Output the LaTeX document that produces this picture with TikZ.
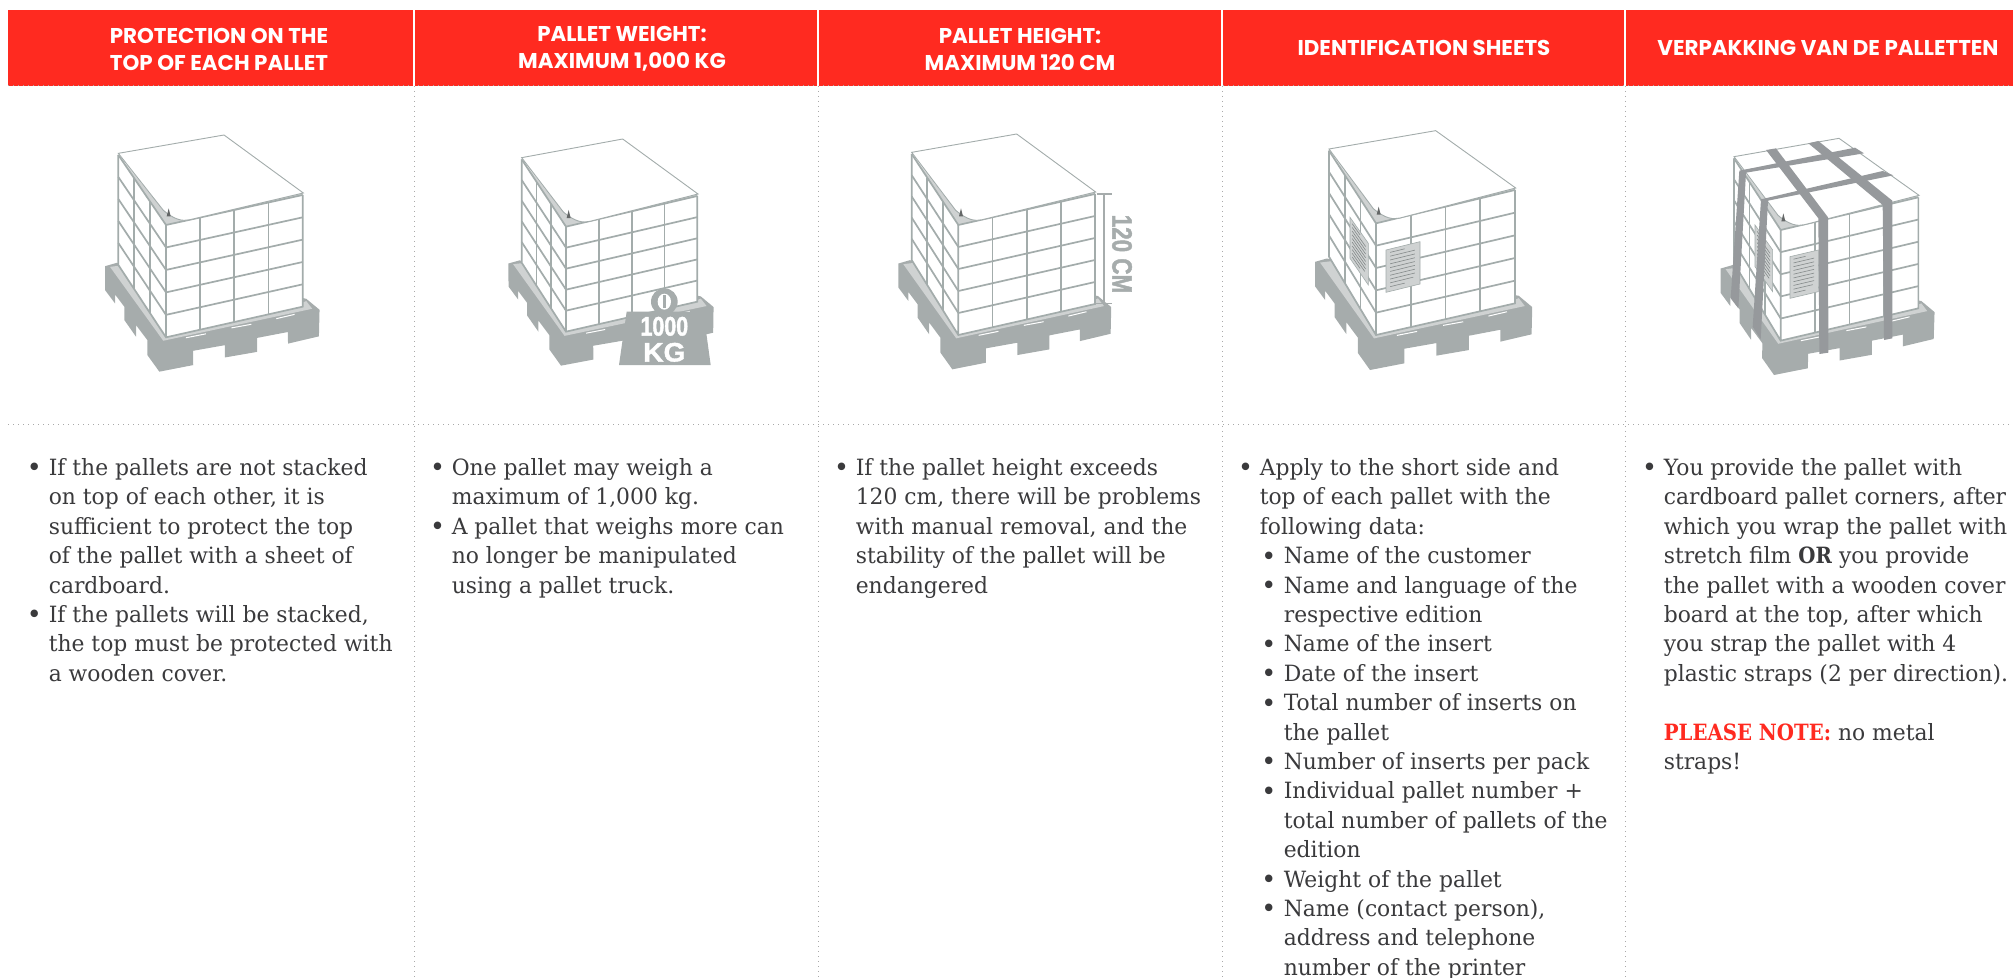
\documentclass[tikz,border=0pt]{standalone}
\usepackage{fontspec}
\usetikzlibrary{calc}
\setmainfont{DejaVu Serif}[FakeStretch=0.975,BoldFeatures={FakeStretch=0.88}]
\newfontfamily\hdrfont{Poppins}[FakeStretch=1.0]
\newfontfamily\impactA{Liberation Sans}[FakeStretch=0.8,BoldFeatures={FakeBold=1.5}]
\newfontfamily\impactB{Liberation Sans}[FakeStretch=1.05,BoldFeatures={FakeBold=1.5}]
\definecolor{hdrred}{HTML}{FF2A20}
\definecolor{palgrey}{HTML}{A6ACAC}
\definecolor{deckgrey}{HTML}{CFD2D2}
\definecolor{linegrey}{HTML}{A3ACAB}
\definecolor{strapgrey}{HTML}{96999C}
\definecolor{dotgrey}{HTML}{A9A9A9}
\definecolor{bodytext}{HTML}{3A3A3C}
\tikzset{
  boxline/.style={draw=linegrey,line width=0.85pt},
  sheetline/.style={draw=linegrey,line width=0.45pt},
  hdrlabel/.style={text=white,font=\hdrfont\bfseries\fontsize{10.7}{13}\selectfont,align=center,inner sep=0pt},
  bodylist/.style={anchor=north west,inner sep=0pt,align=left,text=bodytext,font=\fontsize{11.2}{14.7}\selectfont},
  divider/.style={draw=dotgrey,line width=0.5pt,dotted},
  icon/.style={x=0.166667pt,y=-0.166667pt},
  strap/.style={fill=strapgrey,draw=none},
  idpaper/.style={fill=deckgrey,draw=linegrey,line width=0.3pt},
  idrule/.style={draw=palgrey!80!black,line width=0.3pt}
}
\newcommand\palletbase[6]{%
  \pgfmathsetmacro\rvx{#3-#1}\pgfmathsetmacro\rvy{#4-#2}%
  \pgfmathsetmacro\lvx{#5-#1}\pgfmathsetmacro\lvy{#6-#2}%
  \pgfmathsetmacro\exx{(0.0017296*\rvx-0.0010203*\lvx)/6}%
  \pgfmathsetmacro\exy{-(0.0017296*\rvy-0.0010203*\lvy)/6}%
  \pgfmathsetmacro\eyx{(-0.00088937*\rvx-0.0026299*\lvx)/6}%
  \pgfmathsetmacro\eyy{-(-0.00088937*\rvy-0.0026299*\lvy)/6}%
  \begin{scope}[shift={(#1,#2)},x={(\exx pt,\exy pt)},y={(\eyx pt,\eyy pt)},shift={(-238,-785)}]
    \fill[palgrey] (75,468)--(110,458)--(680,565)--(720,598)--(718,678)--(625,700)--(625,665)--(532,683)--(532,725)--(435,742)--(435,705)--(340,722)--(340,765)--(238,785)--(202,735)--(202,690)--(168,645)--(168,680)--(133,630)--(133,590)--(105,553)--(105,580)--(75,540)--cycle;
    \fill[deckgrey] (90,470)--(130,465)--(660,580)--(680,572)--(698,595)--(250,692)--cycle;
    \draw[white,line width=0.5pt] (318,683)--(378,671) (455,653)--(515,642) (590,625)--(645,612);
  \end{scope}}
\newcommand\corners[7]{%
  \coordinate (F) at (#1);\coordinate (R) at (#2);\coordinate (L) at (#3);\coordinate (A) at (#4);%
  \coordinate (FB) at (#5);\coordinate (RB) at (#6);\coordinate (LB) at (#7);}
\newcommand\cratebox{%
  \fill[white] (L)--(A)--(R)--(RB)--(FB)--(LB)--cycle;
  \foreach \t in {0.25,0.5,0.75} \draw[boxline] ($(F)!\t!(R)$)--($(FB)!\t!(RB)$);
  \foreach \t in {0.333,0.667} \draw[boxline] ($(L)!\t!(F)$)--($(LB)!\t!(FB)$);
  \foreach \t in {0.2,0.4,0.6,0.8} {
    \draw[boxline] ($(F)!\t!(FB)$)--($(R)!\t!(RB)$);
    \draw[boxline] ($(L)!\t!(LB)$)--($(F)!\t!(FB)$);}
  \draw[boxline] (L)--(LB)--(FB)--(RB)--(R) (F)--(FB);
  \fill[deckgrey] (L)--(F)--(R)--([shift={(0,-8)}]R)--([shift={(72,-22)}]F)--([shift={(-10,-46)}]F)--cycle;
  \draw[boxline] (L)--(F)--(R);
  \filldraw[fill=white,sheetline] ([shift={(0,-5)}]L)--(A)--([shift={(2,-6)}]R)--([shift={(72,-16)}]F) .. controls ([shift={(50,-11)}]F) and ([shift={(28,-14)}]F) .. ([shift={(-8,-44)}]F)--cycle;
  \fill[palgrey!60!black] ([shift={(2,-26)}]F)--([shift={(8,-50)}]F)--([shift={(14,-26)}]F)--cycle;}
% a: top-left, b: top-right, c: bottom-right, d: bottom-left
\newcommand\idsheet[4]{%
  \filldraw[idpaper] (#1)--(#2)--(#3)--(#4)--cycle;
  \foreach \t/\e in {0.08/0.55,0.17/0.85,0.26/0.85,0.35/0.85,0.44/0.85,0.53/0.85,0.62/0.85,0.71/0.85,0.80/0.8,0.89/0.55}
    \draw[idrule] ($(#1)!\t!(#4)!0.12!($(#2)!\t!(#3)$)$)--($(#1)!\t!(#4)!\e!($(#2)!\t!(#3)$)$);}
\newcommand\bltglyph{\raisebox{-0.7pt}[0pt][0pt]{\fontsize{13}{14.7}\selectfont\textbullet}}
\newcommand\blt{\makebox[9.7pt][l]{\hspace*{-1.2pt}\bltglyph}}
\newcommand\cnt{\hspace*{9.7pt}}
\newcommand\sbl{\hspace*{10.5pt}\makebox[11.2pt][l]{\bltglyph}}
\newcommand\scn{\hspace*{21.7pt}}
\begin{document}
\begin{tikzpicture}[x=0.5pt,y=-0.5pt]
\useasboundingbox (0,0) rectangle (2013,978);
% header band
\fill[hdrred] (8,10) rectangle (2013,86);
\coordinate (d0) at (8,86);\coordinate (dE) at (2013,86);
\coordinate (m0) at (8,425);\coordinate (mE) at (2013,425);
\draw[divider] (d0)--(dE);
\draw[divider] (m0)--(mE);
\foreach \x in {414,818,1222,1625} {
  \draw[white,line width=1pt] (\x,10)--(\x,86);
  \draw[divider] (\x,86)--(\x,978);
}
\node[hdrlabel] (h1) at (219,49) {PROTECTION ON THE\\[0.5pt]TOP OF EACH PALLET};
\node[hdrlabel] (h2) at (622,49) {PALLET WEIGHT:\\[0.5pt]MAXIMUM 1,000 KG};
\node[hdrlabel] (h3) at (1020,49) {PALLET HEIGHT:\\[0.5pt]MAXIMUM 120 CM};
\node[hdrlabel] (h4) at (1424,48) {IDENTIFICATION SHEETS};
\node[hdrlabel] (h5) at (1828,48) {VERPAKKING VAN DE PALLETTEN};
% icon 1
\begin{scope}[shift={(80,110)},icon]
  \palletbase{238}{785}{720}{598}{75}{468}
  \corners{258,345}{668,255}{115,135}{432,75}{258,682}{668,590}{115,465}
  \cratebox
\end{scope}
% icon 2
\begin{scope}[shift={(480,110)},icon]
  \palletbase{243}{767}{702}{590}{85}{460}
  \corners{258,350}{652,258}{125,148}{428,87}{258,665}{652,575}{125,458}
  \cratebox
  \fill[palgrey] (553,575) circle[radius=40];
  \fill[white] (553,575) circle[x radius=20,y radius=24];
  \fill[palgrey] (548,556) rectangle (558,594);
  \fill[palgrey] (440,605)--(670,605)--(692,765)--(417,765)--cycle;
  \node[inner sep=0pt,text=white,font=\impactA\bfseries\fontsize{13.4}{13.4}\selectfont] (w1) at (553,649) {1000};
  \node[inner sep=0pt,text=white,font=\impactB\bfseries\fontsize{13.4}{13.4}\selectfont] (w2) at (553,727) {KG};
\end{scope}
% icon 3
\begin{scope}[shift={(880,110)},icon]
  \palletbase{217}{778}{695}{590}{55}{460}
  \corners{235,345}{645,252}{95,132}{410,72}{235,675}{645,582}{95,450}
  \cratebox
  \coordinate (t1) at (650,252);\coordinate (t2) at (695,252);
  \coordinate (m1) at (672,252);\coordinate (m2) at (672,580);
  \coordinate (b1) at (645,580);\coordinate (b2) at (695,580);
  \draw[palgrey,line width=0.8pt] (t1)--(t2) (m1)--(m2) (b1)--(b2);
  \node[rotate=-90,inner sep=0pt,text=palgrey,font=\impactA\bfseries\fontsize{14}{14}\selectfont] (hgt) at (726,432) {120 CM};
\end{scope}
% icon 4
\begin{scope}[shift={(1290,110)},icon]
  \palletbase{240}{780}{728}{590}{75}{455}
  \corners{258,340}{675,240}{117,122}{437,62}{258,675}{675,580}{117,440}
  \cratebox
  \coordinate (a1) at (288,420);\coordinate (a2) at (390,395);\coordinate (a3) at (390,522);\coordinate (a4) at (288,547);
  \coordinate (c1) at (180,322);\coordinate (c2) at (235,400);\coordinate (c3) at (235,525);\coordinate (c4) at (180,445);
  \idsheet{a1}{a2}{a3}{a4}
  \idsheet{c1}{c2}{c3}{c4}
\end{scope}
% icon 5
\begin{scope}[shift={(1690,110)},icon]
  \palletbase{252}{795}{735}{605}{92}{475}
  \corners{272,360}{685,262}{132,145}{447,85}{272,692}{685,595}{132,460}
  \cratebox
  \coordinate (a1) at (300,440);\coordinate (a2) at (385,420);\coordinate (a3) at (385,545);\coordinate (a4) at (300,565);
  \coordinate (c1) at (195,345);\coordinate (c2) at (248,420);\coordinate (c3) at (248,545);\coordinate (c4) at (195,470);
  \idsheet{a1}{a2}{a3}{a4}
  \idsheet{c1}{c2}{c3}{c4}
  \fill[strap] (228,120)--(258,115)--(414,322)--(415,728)--(388,732)--(385,325)--cycle;
  \fill[strap] (355,100)--(385,93)--(607,272)--(607,685)--(582,690)--(578,285)--cycle;
  \fill[strap] (495,113)--(522,130)--(168,188)--(145,595)--(122,565)--(148,182)--cycle;
  \fill[strap] (578,183)--(610,196)--(234,272)--(212,688)--(188,650)--(213,268)--cycle;
\end{scope}
% body text
\node[bodylist] (c1txt) at (29,458) {\blt If the pallets are not stacked\\\cnt on top of each other, it is\\\cnt sufficient to protect the top\\\cnt of the pallet with a sheet of\\\cnt cardboard.\\\blt If the pallets will be stacked,\\\cnt the top must be protected with\\\cnt a wooden cover.};
\node[bodylist] (c2txt) at (432,458) {\blt One pallet may weigh a\\\cnt maximum of 1,000 kg.\\\blt A pallet that weighs more can\\\cnt no longer be manipulated\\\cnt using a pallet truck.};
\node[bodylist] (c3txt) at (836,458) {\blt If the pallet height exceeds\\\cnt 120 cm, there will be problems\\\cnt with manual removal, and the\\\cnt stability of the pallet will be\\\cnt endangered};
\node[bodylist] (c4txt) at (1240,458) {\blt Apply to the short side and\\\cnt top of each pallet with the\\\cnt following data:\\\sbl Name of the customer\\\sbl Name and language of the\\\scn respective edition\\\sbl Name of the insert\\\sbl Date of the insert\\\sbl Total number of inserts on\\\scn the pallet\\\sbl Number of inserts per pack\\\sbl Individual pallet number +\\\scn total number of pallets of the\\\scn edition\\\sbl Weight of the pallet\\\sbl Name (contact person),\\\scn address and telephone\\\scn number of the printer};
\node[bodylist] (c5txt) at (1644,458) {\blt You provide the pallet with\\\cnt cardboard pallet corners, after\\\cnt which you wrap the pallet with\\\cnt stretch film \textbf{OR} you provide\\\cnt the pallet with a wooden cover\\\cnt board at the top, after which\\\cnt you strap the pallet with 4\\\cnt plastic straps (2 per direction).\\[14.7pt]\cnt \textcolor{hdrred}{\textbf{PLEASE NOTE:}} no metal\\\cnt straps!};
\end{tikzpicture}
\end{document}
